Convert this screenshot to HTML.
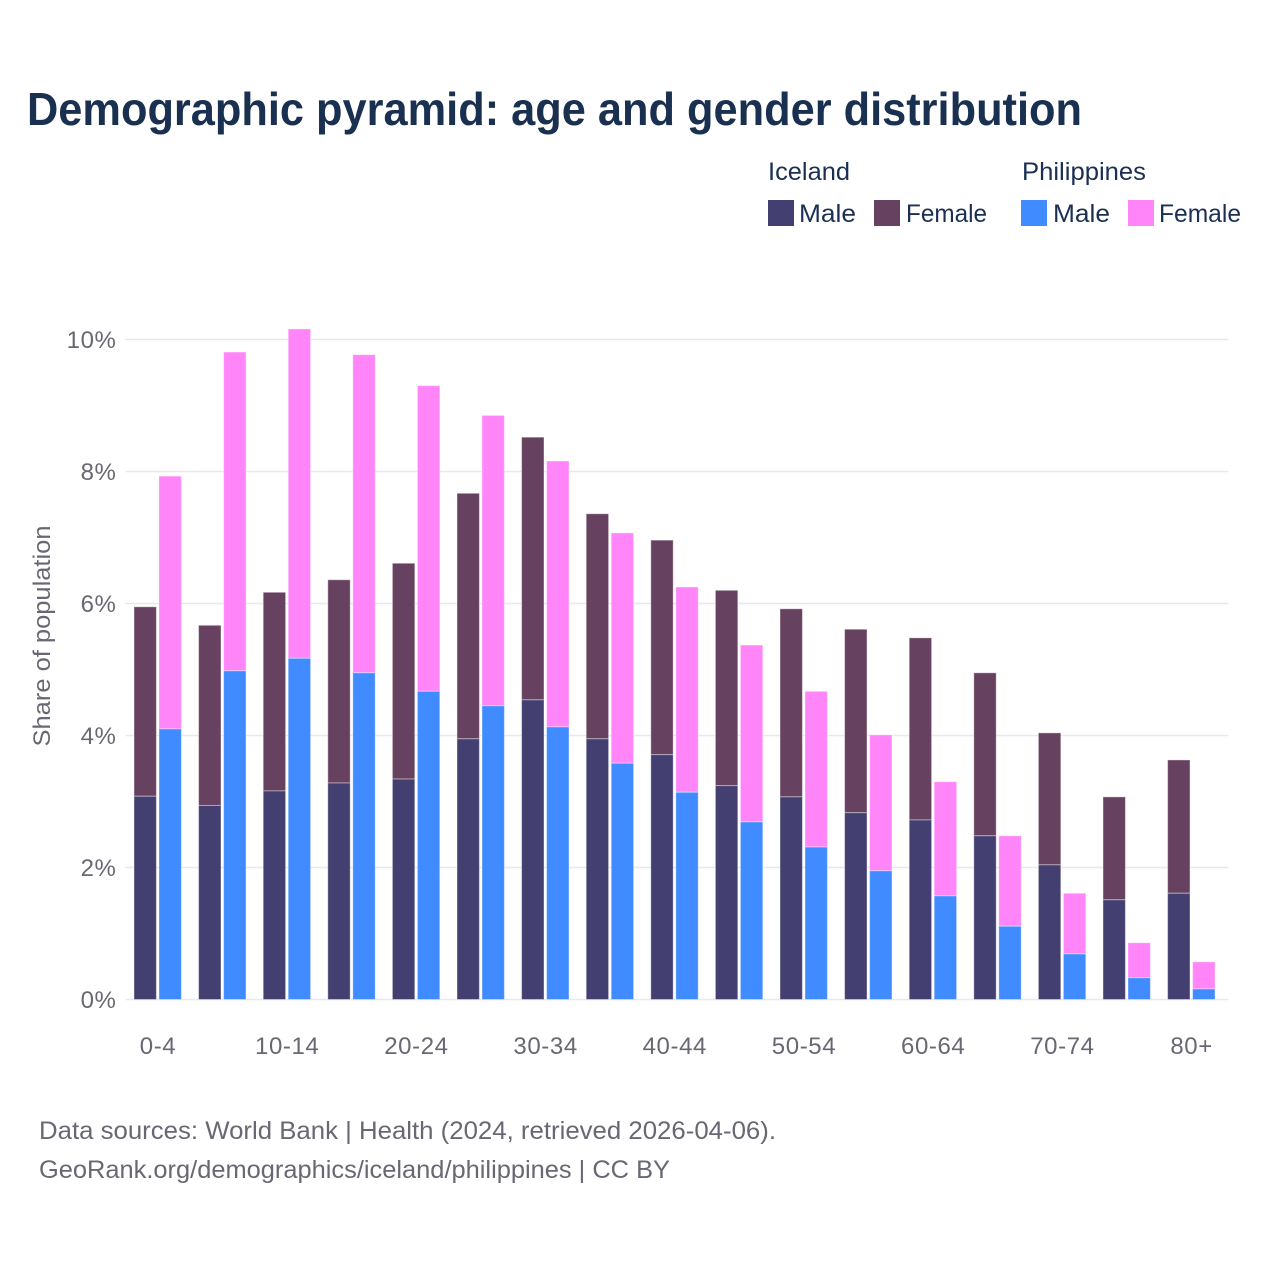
<!DOCTYPE html>
<html lang="en">
<head>
<meta charset="utf-8">
<title>Demographic pyramid</title>
<style>
html,body{margin:0;padding:0;background:#fff;width:1280px;height:1280px;overflow:hidden}
svg{display:block}
text{font-family:"Liberation Sans",sans-serif}
.legend{fill:#1b2f52;font-size:25px}
.tick{fill:#686874;font-size:24px;letter-spacing:.6px}
.source{fill:#686874;font-size:25px}
</style>
</head>
<body>
<svg id="chart" xmlns="http://www.w3.org/2000/svg" width="1280" height="1280" viewBox="0 0 1280 1280">
  <rect x="0" y="0" width="1280" height="1280" fill="#ffffff"/>
  <text x="27" y="125" font-size="46" font-weight="700" fill="#1a3050" textLength="1055" lengthAdjust="spacingAndGlyphs">Demographic pyramid: age and gender distribution</text>

  <g>
    <text class="legend" x="768" y="180" textLength="82" lengthAdjust="spacingAndGlyphs">Iceland</text>
    <text class="legend" x="1022" y="180" textLength="124" lengthAdjust="spacingAndGlyphs">Philippines</text>
    <rect x="768" y="200" width="26" height="26" fill="#433f70"/>
    <text class="legend" x="799" y="222" textLength="57" lengthAdjust="spacingAndGlyphs">Male</text>
    <rect x="874" y="200" width="26" height="26" fill="#674160"/>
    <text class="legend" x="906" y="222" textLength="81" lengthAdjust="spacingAndGlyphs">Female</text>
    <rect x="1021" y="200" width="26" height="26" fill="#3f8bff"/>
    <text class="legend" x="1053" y="222" textLength="57" lengthAdjust="spacingAndGlyphs">Male</text>
    <rect x="1128" y="200" width="26" height="26" fill="#ff85f8"/>
    <text class="legend" x="1159" y="222" textLength="82" lengthAdjust="spacingAndGlyphs">Female</text>
  </g>

  <g id="grid"></g>
  <g id="y-ticks"></g>
  <g id="bars"></g>
  <g id="x-ticks"></g>

  <text transform="translate(50,636) rotate(-90)" text-anchor="middle" font-size="24" fill="#686874" textLength="221" lengthAdjust="spacingAndGlyphs">Share of population</text>

  <text class="source" x="39" y="1139" textLength="737" lengthAdjust="spacingAndGlyphs">Data sources: World Bank | Health (2024, retrieved 2026-04-06).</text>
  <text class="source" x="39" y="1178" textLength="631" lengthAdjust="spacingAndGlyphs">GeoRank.org/demographics/iceland/philippines | CC BY</text>
</svg>
<script>
const ageGroups = ['0-4','5-9','10-14','15-19','20-24','25-29','30-34','35-39','40-44','45-49','50-54','55-59','60-64','65-69','70-74','75-79','80+'];
const xTickLabels = ['0-4','10-14','20-24','30-34','40-44','50-54','60-64','70-74','80+'];
const yTickValues = [0,2,4,6,8,10];
const icelandMale = [3.08,2.94,3.16,3.28,3.34,3.95,4.54,3.95,3.71,3.24,3.07,2.83,2.72,2.48,2.04,1.51,1.61];
const icelandFemale = [2.87,2.73,3.01,3.08,3.27,3.72,3.98,3.41,3.25,2.96,2.85,2.78,2.76,2.47,2.00,1.56,2.02];
const philippinesMale = [4.10,4.98,5.17,4.95,4.67,4.45,4.13,3.58,3.14,2.69,2.31,1.95,1.57,1.11,0.69,0.33,0.16];
const philippinesFemale = [3.83,4.83,4.99,4.82,4.63,4.40,4.03,3.49,3.11,2.68,2.36,2.06,1.73,1.37,0.92,0.53,0.41];

const NS = 'http://www.w3.org/2000/svg';
const plotLeft = 125.5, plotRight = 1228.5, baseY = 999.5, pxPerUnit = 66;
const firstCenter = 158, step = 64.6, barW = 22.4;
const yScale = v => baseY - v * pxPerUnit;
const xScale = label => firstCenter + ageGroups.indexOf(label) * step;

function make(tag, attrs, parent, text) {
  const el = document.createElementNS(NS, tag);
  for (const k in attrs) el.setAttribute(k, attrs[k]);
  if (text !== undefined) el.textContent = text;
  parent.appendChild(el);
  return el;
}

const grid = document.getElementById('grid');
const yTicks = document.getElementById('y-ticks');
yTickValues.forEach(v => {
  const line = make('line', {x1: plotLeft, x2: plotRight, y1: yScale(v), y2: yScale(v), stroke: '#e8e8ef', 'stroke-width': 1.5}, grid);
  
  
  const label = make('text', {class: 'tick', x: 116.5, y: yScale(v) + 8.5, 'text-anchor': 'end'}, yTicks, v + '%');
  
  
});

const bars = document.getElementById('bars');
function drawBar(x, from, value, fill) {
  const top = yScale(from + value), bottom = yScale(from);
  const bar = make('rect', {x: x, y: top, width: barW, height: bottom - top, fill: fill, stroke: '#fff', 'stroke-opacity': 0.4, 'stroke-width': 1}, bars);
  
  
}
ageGroups.forEach((g, i) => {
  const c = xScale(g);
  drawBar(c - 24, icelandMale[i], icelandFemale[i], '#674160');
  drawBar(c - 24, 0, icelandMale[i], '#433f70');
  drawBar(c + 1, philippinesMale[i], philippinesFemale[i], '#ff85f8');
  drawBar(c + 1, 0, philippinesMale[i], '#3f8bff');
});

const xTicks = document.getElementById('x-ticks');
xTickLabels.forEach(t => {
  const label = make('text', {class: 'tick', x: xScale(t), y: 1054, 'text-anchor': 'middle'}, xTicks, t);
  
  
});
</script>
</body>
</html>
